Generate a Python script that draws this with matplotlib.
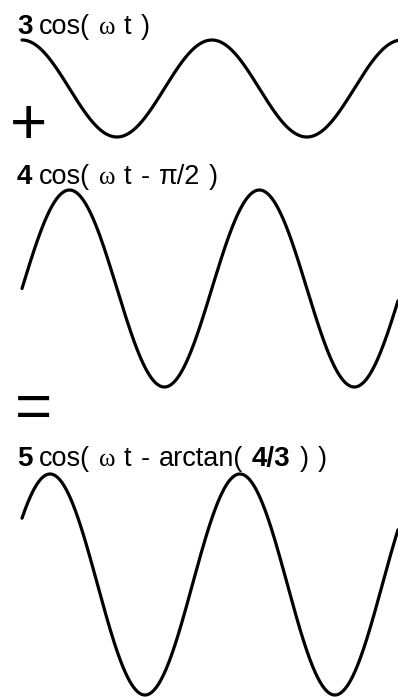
import numpy as np
import matplotlib.pyplot as plt

# the three waves: amplitude and phase lag (radians)
amplitudes = [3, 4, 5]
phases = [0.0, np.pi / 2, np.arctan(4 / 3)]
cycles = 1.98

# label pieces: (text, kind) kind = 'num' bold digits, 'txt' plain, 'sym' small greek
labels = [
    [("3", "num"), ("cos(", "txt"), ("ω", "sym"), ("t", "txt"), (")", "txt")],
    [("4", "num"), ("cos(", "txt"), ("ω", "sym"), ("t", "txt"), ("-", "txt"),
     ("π/2", "txt"), (")", "txt")],
    [("5", "num"), ("cos(", "txt"), ("ω", "sym"), ("t", "txt"), ("-", "txt"),
     ("arctan(", "txt"), ("4/3", "num"), (")", "txt"), (")", "txt")],
]
operators = ["+", "="]

W, H = 398, 697
fig = plt.figure(figsize=(W / 100, H / 100), dpi=100)

# axes boxes in pixels: left, top, right, bottom
boxes = [(22, 40, 398, 137), (22, 190, 398, 387), (22, 474, 398, 695)]

t = np.linspace(0, cycles * 2 * np.pi, 600)
for amp, ph, (l, tp, r, b) in zip(amplitudes, phases, boxes):
    ax = fig.add_axes([l / W, 1 - b / H, (r - l) / W, (b - tp) / H])
    ax.plot(t, amp * np.cos(t - ph), color="black", lw=2.3, clip_on=False,
            solid_capstyle="round")
    ax.set_xlim(0, t[-1])
    ax.set_ylim(-amp, amp)
    ax.axis("off")

styles = {
    "num": dict(family="Liberation Sans", weight="bold", size=20),
    "txt": dict(family="Liberation Sans", size=19.5),
    "sym": dict(family="Liberation Serif", size=18),
}

fig.canvas.draw()
renderer = fig.canvas.get_renderer()


def draw_label(x, y, pieces):
    prev = None
    for s, kind in pieces:
        if prev is not None:
            x += 6 if prev in ("3", "4", "5") else 9
        txt = fig.text(x / W, 1 - y / H, s, va="baseline", ha="left",
                       color="black", **styles[kind])
        x = txt.get_window_extent(renderer).x1
        prev = s


draw_label(17, 34, labels[0])
draw_label(17, 184, labels[1])
draw_label(17, 466, labels[2])

fig.text(28.5 / W, 1 - 120 / H, operators[0], ha="center", va="center_baseline",
         family="Liberation Sans", size=46, color="black")
fig.text(34 / W, 1 - 404.5 / H, operators[1], ha="center", va="center_baseline",
         family="Liberation Sans", size=46, color="black")

fig.savefig("out.png", dpi=100, facecolor="white")
